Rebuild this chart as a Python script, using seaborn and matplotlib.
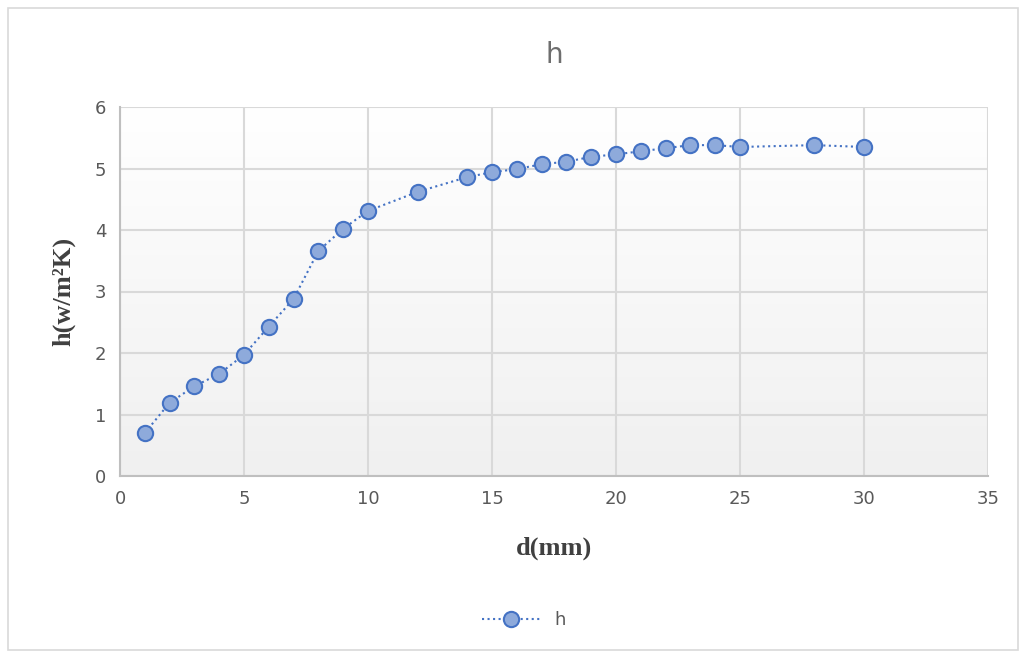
import numpy as np
import pandas as pd
import matplotlib
matplotlib.use("Agg")
import matplotlib.pyplot as plt
import seaborn as sns
from matplotlib.patches import Rectangle

# data
d_mm = [1, 2, 3, 4, 5, 6, 7, 8, 9, 10, 12, 14, 15, 16, 17, 18, 19, 20,
        21, 22, 23, 24, 25, 28, 30]
h_vals = [0.70, 1.19, 1.46, 1.66, 1.97, 2.43, 2.88, 3.66, 4.02, 4.31, 4.62,
          4.86, 4.94, 4.99, 5.07, 5.11, 5.19, 5.23, 5.28, 5.33, 5.38, 5.38,
          5.35, 5.38, 5.35]
x_ticks = [0, 5, 10, 15, 20, 25, 30, 35]
y_ticks = [0, 1, 2, 3, 4, 5, 6]

df = pd.DataFrame({"d": d_mm, "h": h_vals})

sns.set_style("white")
plt.rcParams["font.family"] = ["DejaVu Sans"]

fig = plt.figure(figsize=(10.22, 6.57), dpi=100)
ax = fig.add_axes([120 / 1022, 1 - 476 / 657, 868 / 1022, 369 / 657])

# outer chart border
fig.patches.append(Rectangle((8 / 1022, 7 / 657), 1010 / 1022, 642 / 657,
                             transform=fig.transFigure, fill=False,
                             edgecolor="#d9d9d9", linewidth=1.2))

# gradient background of the plot area
grad = np.linspace(0, 1, 256).reshape(-1, 1)
ax.imshow(grad, extent=[0, 1, 0, 1], transform=ax.transAxes, aspect="auto",
          cmap=matplotlib.colors.LinearSegmentedColormap.from_list(
              "bg", ["#ffffff", "#f0f0f0"]), zorder=0)

sns.lineplot(data=df, x="d", y="h", ax=ax, color="#4472c4", linestyle=":",
             linewidth=1.5, marker="o", markersize=11,
             markerfacecolor="#8eaadb", markeredgecolor="#4472c4",
             markeredgewidth=1.5, label="h", zorder=3)

ax.set_xlim(0, 35)
ax.set_ylim(0, 6)
ax.set_xticks(x_ticks)
ax.set_yticks(y_ticks)
ax.grid(True, color="#d9d9d9", linewidth=1.5)
ax.set_axisbelow(True)
for s in ["top", "right"]:
    ax.spines[s].set_visible(False)
for s in ["left", "bottom"]:
    ax.spines[s].set_color("#bfbfbf")
    ax.spines[s].set_linewidth(1.5)
ax.tick_params(length=0, labelsize=13, labelcolor="#595959", pad=10)

ax.set_title("h", fontsize=20, color="#6e6e6e", pad=32)
ax.set_xlabel("d(mm)", fontsize=19, fontweight="bold",
              family="Liberation Serif", color="#404040", labelpad=21)
ax.set_ylabel("h(w/m²K)", fontsize=19, fontweight="bold",
              family="Liberation Serif", color="#404040", labelpad=14)

leg = ax.legend(loc="center", bbox_to_anchor=(0.465, -0.39), frameon=False,
                fontsize=13, handlelength=3.2)
for t in leg.get_texts():
    t.set_color("#595959")

fig.savefig("out.png", dpi=100)
